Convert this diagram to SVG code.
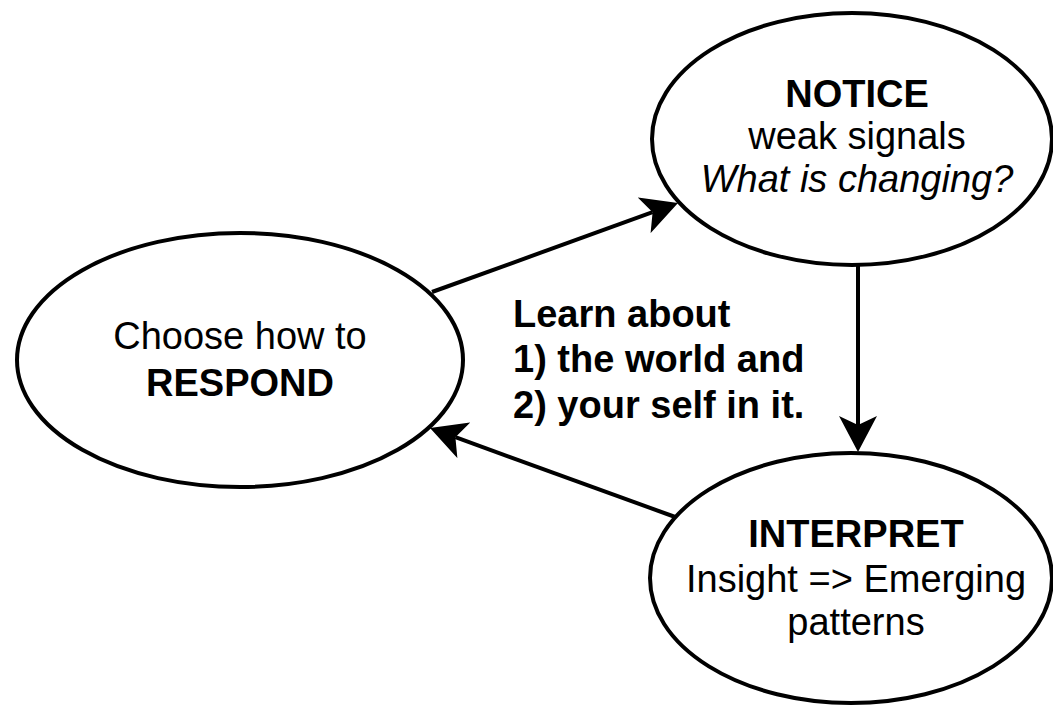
<svg xmlns="http://www.w3.org/2000/svg" width="1053" height="706" viewBox="0 0 1053 706">
  <style>
    .node { fill: #ffffff; stroke: #000000; stroke-width: 4; }
    .edge { fill: none; stroke: #000000; stroke-width: 4; }
    .t { font-family: "Liberation Sans", Arial, Helvetica, sans-serif; font-size: 38px; fill: #000000; }
    .c { text-anchor: middle; }
    .b { font-weight: bold; }
    .i { font-style: italic; }
  </style>
  <defs>
    <marker id="arrow" markerUnits="userSpaceOnUse" viewBox="0 0 36 38" refX="9" refY="19" markerWidth="36" markerHeight="38" orient="auto">
      <path d="M0,0 L36,19 L0,38 L9,19 Z" fill="#000000"/>
    </marker>
  </defs>
  <rect width="1053" height="706" fill="#ffffff"/>

  <g id="connectors">
    <line class="edge" x1="432" y1="292" x2="652.6" y2="212.2" marker-end="url(#arrow)"/>
    <line class="edge" x1="858" y1="265" x2="858" y2="425" marker-end="url(#arrow)"/>
    <line class="edge" x1="678" y1="518" x2="455.4" y2="437.2" marker-end="url(#arrow)"/>
  </g>

  <g id="notice">
    <ellipse class="node" cx="852" cy="139" rx="200" ry="126"/>
    <text class="t c b" x="857" y="107">NOTICE</text>
    <text class="t c" x="857" y="149">weak signals</text>
    <text class="t c i" x="857" y="192">What is changing?</text>
  </g>

  <g id="respond">
    <ellipse class="node" cx="240" cy="360" rx="223" ry="127"/>
    <text class="t c" x="240" y="349">Choose how to</text>
    <text class="t c b" x="240" y="396">RESPOND</text>
  </g>

  <g id="interpret">
    <ellipse class="node" cx="851" cy="578" rx="201" ry="125"/>
    <text class="t c b" x="856" y="547">INTERPRET</text>
    <text class="t c" x="856" y="592">Insight =&gt; Emerging</text>
    <text class="t c" x="856" y="635">patterns</text>
  </g>

  <g id="learn">
    <text class="t b" x="513" y="327">Learn about</text>
    <text class="t b" x="513" y="372">1) the world and</text>
    <text class="t b" x="513" y="418">2) your self in it.</text>
  </g>
</svg>
